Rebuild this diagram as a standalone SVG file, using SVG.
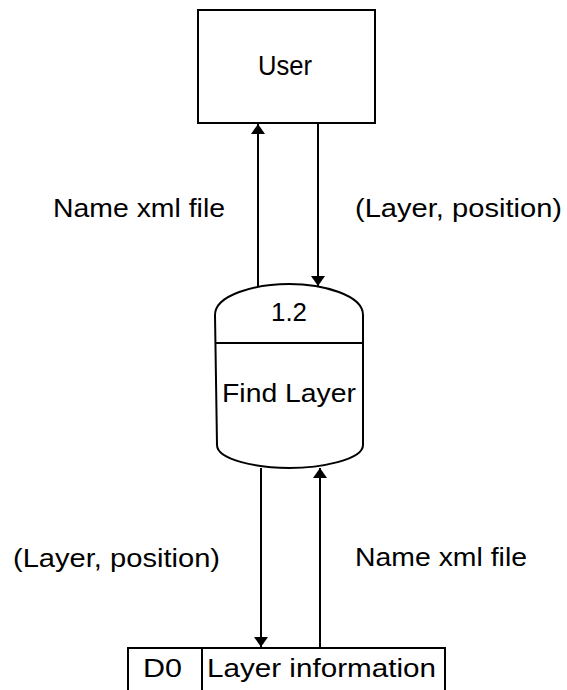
<svg xmlns="http://www.w3.org/2000/svg" width="567" height="690" viewBox="0 0 567 690">
<defs>
<marker id="ah" viewBox="0 0 10 14" refX="10" refY="7" markerWidth="10" markerHeight="14" markerUnits="userSpaceOnUse" orient="auto">
<path d="M0,0 L10,7 L0,14 Z" fill="#000"/>
</marker>
</defs>
<style>
.t{font-family:"Liberation Sans",Arial,sans-serif;font-size:26px;fill:#000}
.s{fill:#fff;stroke:#000;stroke-width:2}
.c{stroke:#000;stroke-width:2;fill:none}
</style>
<rect width="567" height="690" fill="#fff"/>
<g id="user">
<rect class="s" x="198" y="10" width="177" height="113"/>
<text class="t" x="258" y="75" style="font-size:27px" textLength="54" lengthAdjust="spacingAndGlyphs">User</text>
</g>
<g id="process">
<path class="s" d="M215,315 C215,295 255,284 289,284 C323,284 363,295 363,315 L363,445 C363,460 320,468 289,468 C258,468 217,460 217,445 Z"/>
<line class="c" x1="215" y1="343" x2="363" y2="343"/>
<text class="t" x="271" y="321" textLength="36" lengthAdjust="spacingAndGlyphs">1.2</text>
<text class="t" x="222" y="402" textLength="134" lengthAdjust="spacingAndGlyphs">Find Layer</text>
</g>
<g id="store">
<path class="c" d="M128,694 L128,648 L445,648 L445,694"/>
<line class="c" x1="202" y1="648" x2="202" y2="694"/>
<text class="t" x="143" y="677" textLength="39" lengthAdjust="spacingAndGlyphs">D0</text>
<text class="t" x="207" y="677" textLength="229" lengthAdjust="spacingAndGlyphs">Layer information</text>
</g>
<g id="connectors">
<line class="c" x1="258" y1="287" x2="258" y2="124" marker-end="url(#ah)"/>
<line class="c" x1="318" y1="123" x2="318" y2="286" marker-end="url(#ah)"/>
<line class="c" x1="261" y1="468" x2="261" y2="647" marker-end="url(#ah)"/>
<line class="c" x1="320" y1="648" x2="320" y2="468" marker-end="url(#ah)"/>
</g>
<g id="labels">
<text class="t" x="53" y="217" textLength="172" lengthAdjust="spacingAndGlyphs">Name xml file</text>
<text class="t" x="355" y="217" textLength="207" lengthAdjust="spacingAndGlyphs">(Layer, position)</text>
<text class="t" x="13" y="567" textLength="207" lengthAdjust="spacingAndGlyphs">(Layer, position)</text>
<text class="t" x="355" y="566" textLength="172" lengthAdjust="spacingAndGlyphs">Name xml file</text>
</g>
</svg>
